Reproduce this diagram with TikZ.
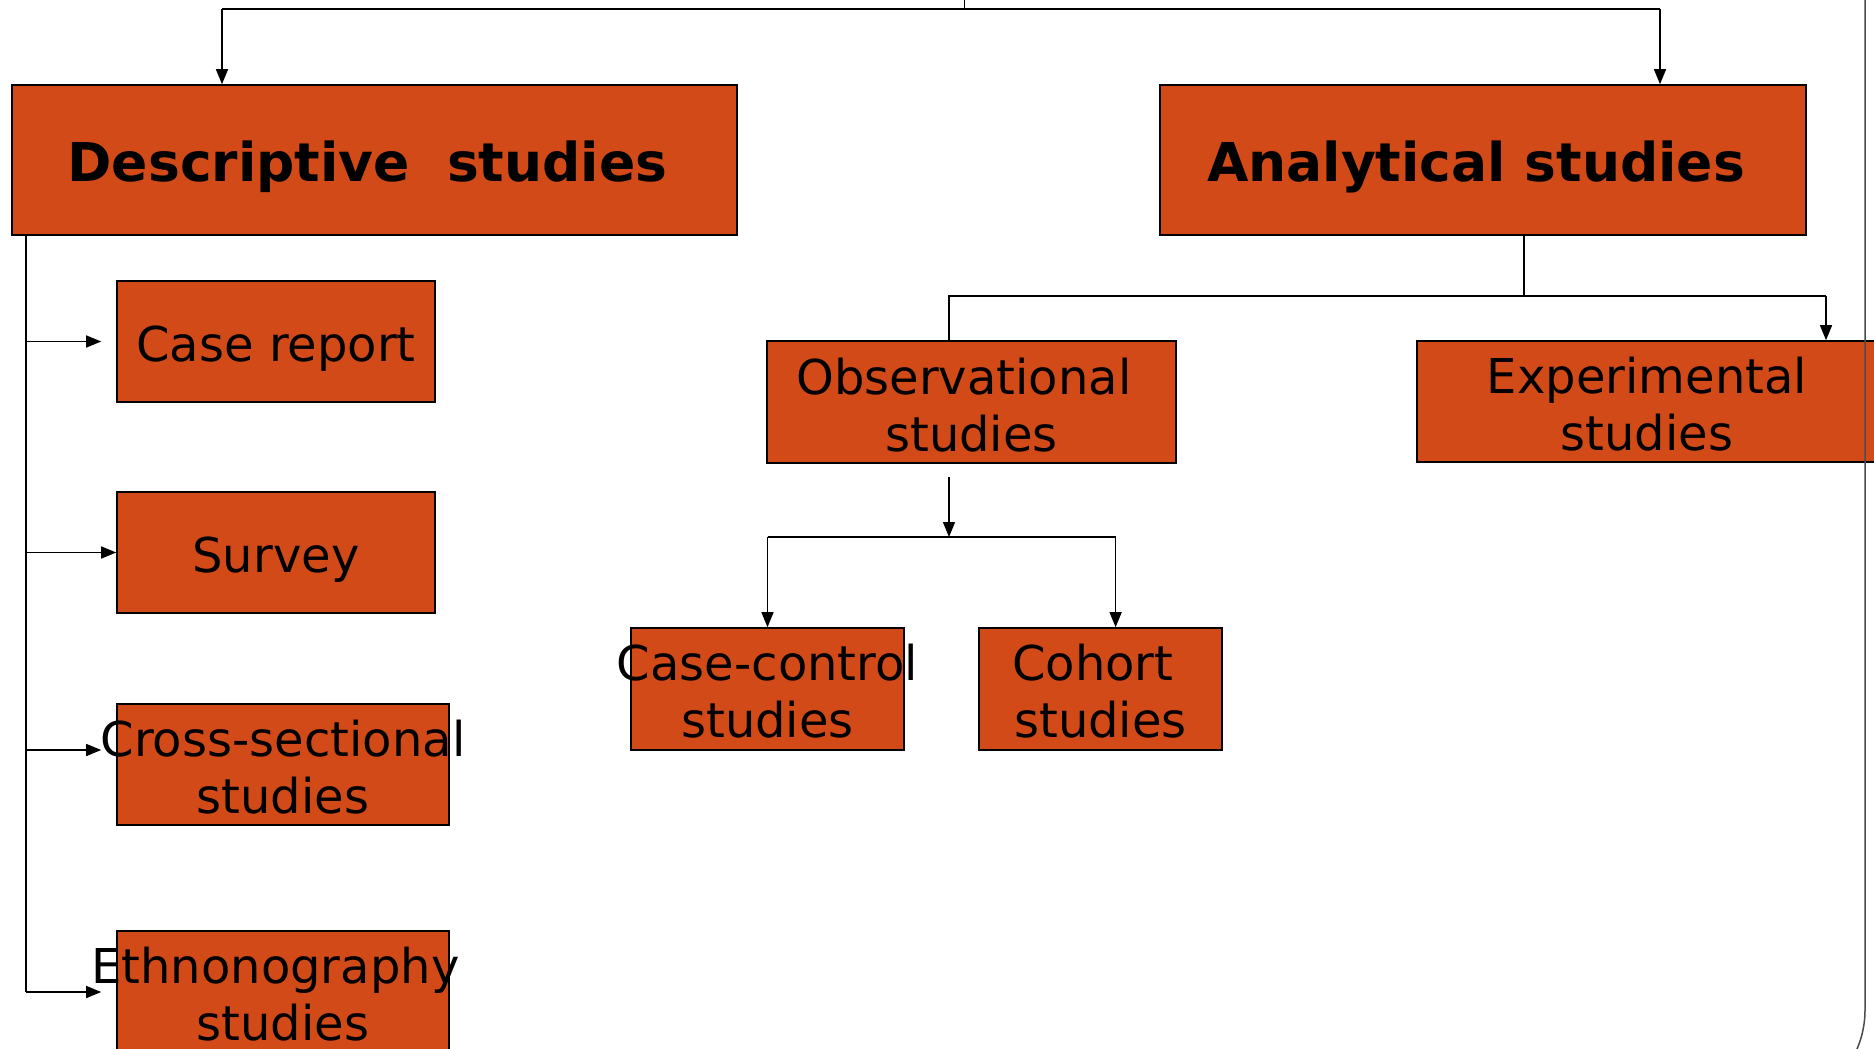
\documentclass[tikz,border=0pt]{standalone}
\usepackage{fontspec}
\setmainfont{DejaVu Sans}
\usetikzlibrary{arrows.meta}
\definecolor{boxfill}{RGB}{210,74,24}
\begin{document}
\begin{tikzpicture}[x=1pt,y=-1pt,
  box/.style={draw=black,line width=1.6pt,fill=boxfill,inner sep=0pt},
  lbl/.style={font=\fontsize{48}{57}\selectfont,align=center,inner sep=0pt},
  ttl/.style={font=\fontsize{53.5}{60}\selectfont\bfseries,inner sep=0pt},
  conn/.style={line width=1.4pt},
  arr/.style={conn,-{Triangle[length=15pt,width=12pt]}}]
\useasboundingbox (0,0) rectangle (1874,1049);
\clip (0,0) rectangle (1874,1049);
% boxes
\node[box,minimum width=725pt,minimum height=150pt] (desc) at (374.5,160) {};
\node[box,minimum width=646pt,minimum height=150pt] (anal) at (1483,160) {};
\node[box,minimum width=318pt,minimum height=121pt] (cr) at (276,341.5) {};
\node[box,minimum width=318pt,minimum height=121pt] (sv) at (276,552.5) {};
\node[box,minimum width=332pt,minimum height=121pt] (cs) at (283,764.5) {};
\node[box,minimum width=332pt,minimum height=121pt] (et) at (283,991.5) {};
\node[box,minimum width=409pt,minimum height=122pt] (obs) at (971.5,402) {};
\node[box,minimum width=460pt,minimum height=121pt] (exp) at (1647,401.5) {};
\node[box,minimum width=273pt,minimum height=122pt] (cc) at (767.5,689) {};
\node[box,minimum width=243pt,minimum height=122pt] (co) at (1100.5,689) {};
% labels
\node[ttl] (descT) at ([xshift=-7pt,yshift=-7pt]desc.center) {Descriptive\ \ studies};
\node[ttl] (analT) at ([xshift=-7pt,yshift=-7pt]anal.center) {Analytical studies};
\node[lbl] (crT) at ([yshift=-7pt]cr.center) {Case report};
\node[lbl] (svT) at ([yshift=-7pt]sv.center) {Survey};
\node[lbl] (csT) at ([yshift=-3pt]cs.center) {Cross-sectional\\studies};
\node[lbl] (etT) at ([yshift=-3pt]et.center) {Ethnonography\hspace*{0.32em}\\studies};
\node[lbl] (obsT) at ([yshift=-3pt]obs.center) {Observational\hspace*{0.32em}\\studies};
\node[lbl] (expT) at ([yshift=-3pt]exp.center) {Experimental\\studies};
\node[lbl] (ccT) at ([yshift=-2pt]cc.center) {Case-control\\studies};
\node[lbl] (coT) at ([yshift=-2pt]co.center) {Cohort\hspace*{0.32em}\\studies};
% top connectors
\coordinate (top) at (964,0);
\coordinate (tj) at (964,9);
\coordinate (tl) at (222,9);
\coordinate (tr) at (1660,9);
\draw[conn,line width=1pt] (top) -- (tj);
\draw[line width=2.2pt] (tl) -- (tr);
\draw[arr] (tl) -- (tl |- desc.north);
\draw[arr] (tr) -- (tr |- anal.north);
% descriptive spine
\coordinate (spT) at (26,235);
\coordinate (spB) at (26,992);
\coordinate (aCS) at (26,750);
\draw[conn] (spT) -- (spB);
\draw[arr,shorten >=15pt] (spT |- cr.west) -- (cr.west);
\draw[arr] (spT |- sv.west) -- (sv.west);
\draw[arr,shorten >=15pt] (aCS) -- (aCS -| cs.west);
\draw[arr,shorten >=15pt] (spB) -- (spB -| et.west);
% analytical branches
\coordinate (aj) at (1524,296);
\coordinate (oj) at (949,296);
\coordinate (ej) at (1826,296);
\draw[conn] (aj |- anal.south) -- (aj);
\draw[conn] (oj |- obs.north) -- (oj) -- (ej);
\draw[arr] (ej) -- (ej |- exp.north);
% observational branches
\coordinate (os) at (949,477);
\coordinate (ob) at (949,537);
\coordinate (bl) at (767.5,537);
\coordinate (br) at (1115.6,537);
\draw[arr] (os) -- (ob);
\draw[conn] (bl) -- (br);
\draw[arr] (bl) -- (bl |- cc.north);
\draw[arr] (br) -- (br |- co.north);
% slide frame edge
\coordinate (fr) at (1865,0);
\draw[line width=1.5pt,black!70] (fr) -- (1865,1010) arc[start angle=0,end angle=30,radius=99];
\end{tikzpicture}
\end{document}
